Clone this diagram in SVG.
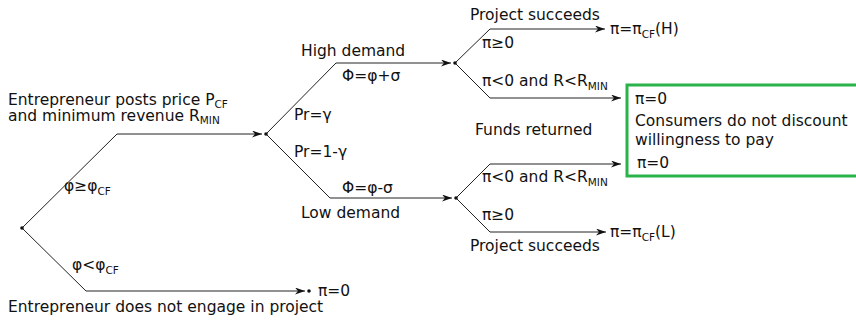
<svg xmlns="http://www.w3.org/2000/svg" width="856" height="321" viewBox="0 0 856 321">
<defs>
<marker id="arr" viewBox="0 0 10 7" refX="10" refY="3.5" markerWidth="10" markerHeight="7" markerUnits="userSpaceOnUse" orient="auto">
<path d="M0,0 L10,3.5 L0,7 L3,3.5 z" fill="#111"/>
</marker>
<style>
text{font-family:"DejaVu Sans",Verdana,sans-serif;font-size:15.5px;fill:#111}
.sub{font-size:10.5px}
.c{fill:none;stroke:#222;stroke-width:1}
.a{marker-end:url(#arr)}
.dot{fill:#111}
.box{fill:#fff;stroke:#2bb34b;stroke-width:3}
</style>
</defs>
<rect width="856" height="321" fill="#fff"/>
<g id="connectors">
<path class="c a" d="M22,228 L117,134 L262,134"/>
<path class="c a" d="M22,228 L86,291 L305,291"/>
<path class="c a" d="M266,134 L336,63 L451,63"/>
<path class="c a" d="M266,134 L330,198 L452,198"/>
<path class="c a" d="M455,63 L490,29 L605,29"/>
<path class="c a" d="M455,63 L490,98 L621,98"/>
<path class="c a" d="M456,198 L490,164 L621,164"/>
<path class="c a" d="M456,198 L490,232 L606,232"/>
</g>
<g id="root">
<circle class="dot" cx="22" cy="228" r="1.8"/>
</g>
<g id="engage">
<circle class="dot" cx="266" cy="134" r="1.8"/>
<text x="8" y="105">Entrepreneur posts price P<tspan class="sub" dy="3">CF</tspan><tspan x="8" y="120.5">and minimum revenue R</tspan><tspan class="sub" dy="3">MIN</tspan></text>
<text x="64" y="191">φ≥φ<tspan class="sub" dy="3.5">CF</tspan></text>
</g>
<g id="no-engage">
<circle class="dot" cx="309" cy="291" r="1.8"/>
<text x="72" y="270">φ&lt;φ<tspan class="sub" dy="3.5">CF</tspan></text>
<text x="318" y="296">π=0</text>
<text x="8" y="312">Entrepreneur does not engage in project</text>
</g>
<g id="probs">
<text x="294" y="120">Pr=γ</text>
<text x="294" y="157">Pr=1-γ</text>
</g>
<g id="high">
<circle class="dot" cx="455" cy="63" r="1.8"/>
<text x="301" y="56">High demand</text>
<text x="342" y="81">Φ=φ+σ</text>
</g>
<g id="low">
<circle class="dot" cx="456" cy="198" r="1.8"/>
<text x="342" y="193">Φ=φ-σ</text>
<text x="301" y="218">Low demand</text>
</g>
<g id="high-success">
<text x="470" y="20">Project succeeds</text>
<text x="482" y="48">π≥0</text>
<text x="610" y="34">π=π<tspan class="sub" dy="3.5">CF</tspan><tspan dy="-3.5">(H)</tspan></text>
</g>
<g id="high-fail">
<text x="482" y="86">π&lt;0 and R&lt;R<tspan class="sub" dy="3.5">MIN</tspan></text>
</g>
<g id="funds">
<text x="475" y="135">Funds returned</text>
</g>
<g id="low-fail">
<text x="482" y="182">π&lt;0 and R&lt;R<tspan class="sub" dy="3.5">MIN</tspan></text>
</g>
<g id="low-success">
<text x="482" y="220">π≥0</text>
<text x="470" y="251">Project succeeds</text>
<text x="610" y="237">π=π<tspan class="sub" dy="3.5">CF</tspan><tspan dy="-3.5">(L)</tspan></text>
</g>
<g id="outcome-box">
<rect class="box" x="627" y="85" width="250" height="91"/>
<text x="635" y="104">π=0</text>
<text x="635" y="126">Consumers do not discount</text>
<text x="635" y="145">willingness to pay</text>
<text x="637" y="168">π=0</text>
</g>
</svg>
